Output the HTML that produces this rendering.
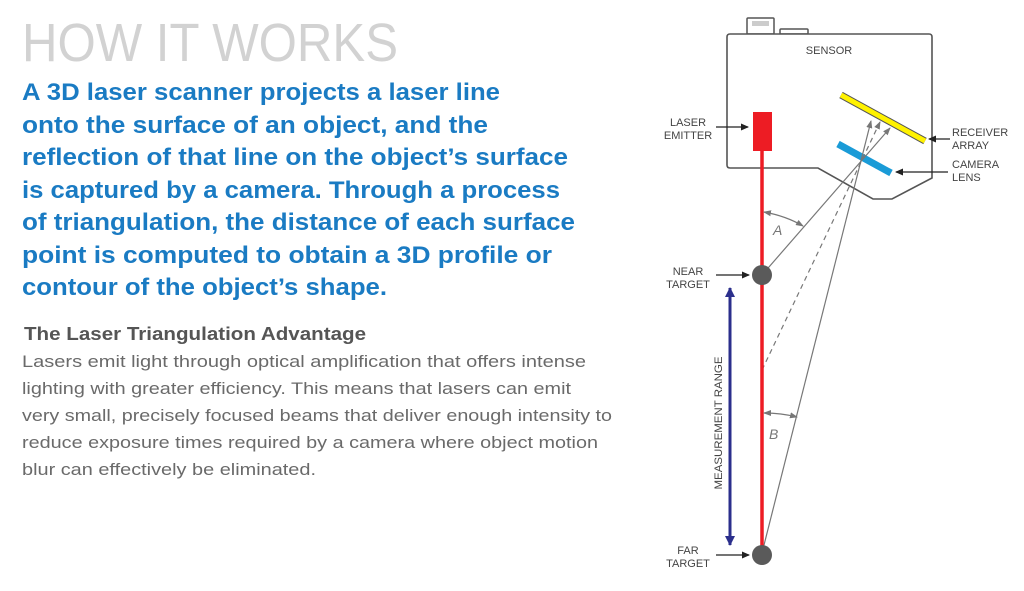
<!DOCTYPE html>
<html><head><meta charset="utf-8"><style>
html,body{margin:0;padding:0;background:#fff;width:1024px;height:591px;overflow:hidden}
svg{display:block}
.t{font-family:"Liberation Sans",sans-serif}
</style></head><body>
<svg width="1024" height="591" viewBox="0 0 1024 591" xmlns="http://www.w3.org/2000/svg">
<defs>
<marker id="ah" markerWidth="8" markerHeight="8" refX="7" refY="4" orient="auto" markerUnits="userSpaceOnUse"><path d="M0,0.5 L8,4 L0,7.5z" fill="#222"/></marker>
<marker id="ag" markerWidth="8" markerHeight="8" refX="7" refY="4" orient="auto" markerUnits="userSpaceOnUse"><path d="M0,1 L8,4 L0,7z" fill="#777"/></marker>
<marker id="ags" markerWidth="8" markerHeight="8" refX="1" refY="4" orient="auto" markerUnits="userSpaceOnUse"><path d="M8,1 L0,4 L8,7z" fill="#777"/></marker>
<marker id="ab" markerWidth="10" markerHeight="12" refX="9" refY="5" orient="auto" markerUnits="userSpaceOnUse"><path d="M0,0 L10,5 L0,10z" fill="#2b2f8c"/></marker>
</defs>
<g class="t">
<text x="22" y="61" font-size="54" fill="#d2d2d2" textLength="376" lengthAdjust="spacingAndGlyphs">HOW IT WORKS</text>
<g font-size="24" font-weight="bold" fill="#1a7bc3">
<text x="22" y="100" textLength="478" lengthAdjust="spacingAndGlyphs">A 3D laser scanner projects a laser line</text>
<text x="22" y="133" textLength="466" lengthAdjust="spacingAndGlyphs">onto the surface of an object, and the</text>
<text x="22" y="165" textLength="546" lengthAdjust="spacingAndGlyphs">reflection of that line on the object’s surface</text>
<text x="22" y="198" textLength="538" lengthAdjust="spacingAndGlyphs">is captured by a camera. Through a process</text>
<text x="22" y="230" textLength="553" lengthAdjust="spacingAndGlyphs">of triangulation, the distance of each surface</text>
<text x="22" y="263" textLength="530" lengthAdjust="spacingAndGlyphs">point is computed to obtain a 3D profile or</text>
<text x="22" y="295" textLength="365" lengthAdjust="spacingAndGlyphs">contour of the object’s shape.</text>
</g>
<text x="24" y="340" font-size="18" font-weight="bold" fill="#555" textLength="342" lengthAdjust="spacingAndGlyphs">The Laser Triangulation Advantage</text>
<g font-size="17" fill="#6a6a6a">
<text x="22" y="367" textLength="564" lengthAdjust="spacingAndGlyphs">Lasers emit light through optical amplification that offers intense</text>
<text x="22" y="394" textLength="549" lengthAdjust="spacingAndGlyphs">lighting with greater efficiency. This means that lasers can emit</text>
<text x="22" y="421" textLength="590" lengthAdjust="spacingAndGlyphs">very small, precisely focused beams that deliver enough intensity to</text>
<text x="22" y="448" textLength="576" lengthAdjust="spacingAndGlyphs">reduce exposure times required by a camera where object motion</text>
<text x="22" y="475" textLength="294" lengthAdjust="spacingAndGlyphs">blur can effectively be eliminated.</text>
</g>
</g>
<!-- sensor -->
<rect x="747" y="18" width="27" height="16" fill="#fff" stroke="#555" stroke-width="1.5" rx="1"/>
<rect x="752" y="21" width="17" height="5" fill="#ccc"/>
<rect x="780" y="29" width="28" height="5" fill="#fff" stroke="#555" stroke-width="1.5" rx="1"/>
<path d="M730,34 L929,34 Q932,34 932,37 L932,178 L892,199 L873,199 L818,168 L730,168 Q727,168 727,165 L727,37 Q727,34 730,34z" fill="#fff" stroke="#555" stroke-width="1.6"/>
<text x="829" y="54" class="t" font-size="11" fill="#444" text-anchor="middle">SENSOR</text>
<!-- bars -->
<line x1="841" y1="95" x2="925" y2="141" stroke="#555" stroke-width="7"/>
<line x1="841" y1="95" x2="925" y2="141" stroke="#fff200" stroke-width="5"/>
<line x1="838" y1="144" x2="891" y2="173" stroke="#1a9bd7" stroke-width="7"/>
<!-- rays -->
<line x1="762" y1="275" x2="890" y2="128" stroke="#777" stroke-width="1.2" marker-end="url(#ag)"/>
<line x1="762" y1="553" x2="871" y2="121" stroke="#777" stroke-width="1.2" marker-end="url(#ag)"/>
<line x1="762" y1="370" x2="880" y2="122" stroke="#777" stroke-width="1.2" stroke-dasharray="5,4" marker-end="url(#ag)"/>
<!-- laser -->
<rect x="753" y="112" width="19" height="39" fill="#ed1c24"/>
<line x1="762" y1="151" x2="762" y2="553" stroke="#ed1c24" stroke-width="3.5"/>
<circle cx="762" cy="275" r="10" fill="#5a5a5a"/>
<circle cx="762" cy="555" r="10" fill="#5a5a5a"/>
<!-- angles -->
<path d="M764,212 Q786,216 803,226" fill="none" stroke="#777" stroke-width="1.2" marker-start="url(#ags)" marker-end="url(#ag)"/>
<text x="773" y="235" class="t" font-size="14" font-style="italic" fill="#777">A</text>
<path d="M764,413 Q781,413 797,417" fill="none" stroke="#777" stroke-width="1.2" marker-start="url(#ags)" marker-end="url(#ag)"/>
<text x="769" y="439" class="t" font-size="14" font-style="italic" fill="#777">B</text>
<!-- measurement -->
<line x1="730" y1="545" x2="730" y2="288" stroke="#2b2f8c" stroke-width="3" marker-end="url(#ab)"/>
<line x1="730" y1="288" x2="730" y2="545" stroke="#2b2f8c" stroke-width="3" marker-end="url(#ab)"/>
<text class="t" font-size="11" fill="#444" text-anchor="middle" transform="translate(722,423) rotate(-90)" textLength="133" lengthAdjust="spacingAndGlyphs">MEASUREMENT RANGE</text>
<!-- labels -->
<g class="t" font-size="11" fill="#444" text-anchor="middle">
<text x="688" y="126">LASER</text><text x="688" y="139">EMITTER</text>
<text x="688" y="275">NEAR</text><text x="688" y="288">TARGET</text>
<text x="688" y="554">FAR</text><text x="688" y="567">TARGET</text>
</g>
<g class="t" font-size="11" fill="#444">
<text x="952" y="136">RECEIVER</text><text x="952" y="149">ARRAY</text>
<text x="952" y="168">CAMERA</text><text x="952" y="181">LENS</text>
</g>
<g stroke="#222" stroke-width="1.2">
<line x1="716" y1="127" x2="748" y2="127" marker-end="url(#ah)"/>
<line x1="716" y1="275" x2="749" y2="275" marker-end="url(#ah)"/>
<line x1="716" y1="555" x2="749" y2="555" marker-end="url(#ah)"/>
<line x1="950" y1="139" x2="929" y2="139" marker-end="url(#ah)"/>
<line x1="948" y1="172" x2="896" y2="172" marker-end="url(#ah)"/>
</g>
</svg>
</body></html>
